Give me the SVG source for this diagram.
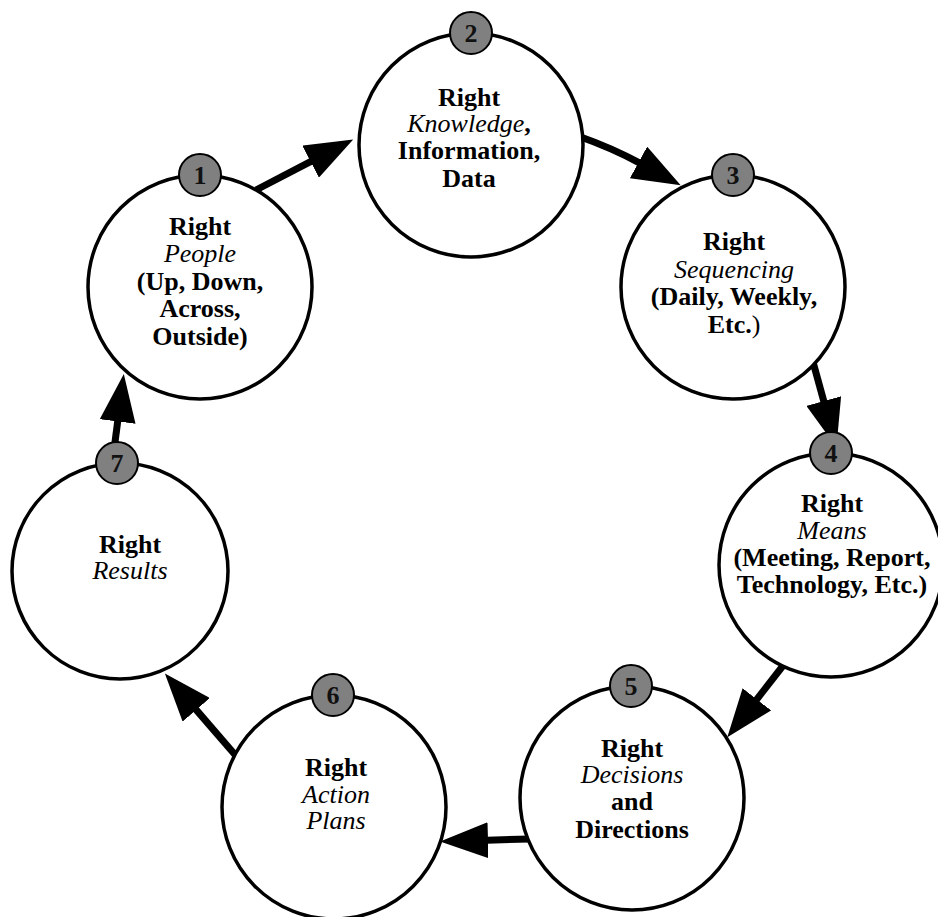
<svg xmlns="http://www.w3.org/2000/svg" width="938" height="917" viewBox="0 0 938 917">
  <style>
    .ring { fill: #ffffff; stroke: #000000; stroke-width: 3.5; }
    .badge { fill: #808080; stroke: #000000; stroke-width: 2; }
    .num { font-family: "Liberation Serif", "Times New Roman", serif; font-size: 26px; font-weight: bold; fill: #111111; text-anchor: middle; }
    .label { font-family: "Liberation Serif", "Times New Roman", serif; font-size: 26px; font-weight: bold; fill: #000000; text-anchor: middle; }
    .em { font-style: italic; font-weight: normal; }
    .plain { font-weight: normal; }
    .link { fill: none; stroke: #000000; stroke-width: 7; }
  </style>
  <defs>
    <marker id="head" markerUnits="userSpaceOnUse" viewBox="0 -18 48 36" markerWidth="48" markerHeight="36" refX="1" refY="0" orient="auto">
      <path d="M0,-18 L48,0 L0,18 Z" fill="#000000"/>
    </marker>
  </defs>
  <rect width="938" height="917" fill="#ffffff"/>

  <!-- connectors: the cycle 1 → 2 → … → 7 → 1 -->
  <g id="connectors">
    <path class="link" d="M256,190 L311.5,161.2" marker-end="url(#head)"/>
    <path class="link" d="M578,136 Q612,148 639.4,162.9" marker-end="url(#head)"/>
    <path class="link" d="M813,362 L824,402" marker-end="url(#head)"/>
    <path class="link" d="M789,658 L756.2,700.1" marker-end="url(#head)"/>
    <path class="link" d="M530,839 L487,840.2" marker-end="url(#head)"/>
    <path class="link" d="M237,757 L195.6,709.1" marker-end="url(#head)"/>
    <path class="link" d="M114,450 L117.8,420.5" marker-end="url(#head)"/>
  </g>

  <g id="node1">
    <circle class="ring" cx="200" cy="287" r="112"/>
    <circle class="badge" cx="200" cy="175" r="21"/>
    <text class="num" x="200" y="184">1</text>
    <text class="label" x="200" y="235">Right</text>
    <text class="label em" x="200" y="262">People</text>
    <text class="label" x="200" y="290">(Up, Down,</text>
    <text class="label" x="200" y="317">Across,</text>
    <text class="label" x="200" y="345">Outside)</text>
  </g>

  <g id="node2">
    <circle class="ring" cx="471" cy="145" r="112"/>
    <circle class="badge" cx="471" cy="33" r="21"/>
    <text class="num" x="471" y="42">2</text>
    <text class="label" x="469" y="106">Right</text>
    <text class="label" x="469" y="132"><tspan class="em">Knowledge</tspan>,</text>
    <text class="label" x="469" y="159">Information,</text>
    <text class="label" x="469" y="187">Data</text>
  </g>

  <g id="node3">
    <circle class="ring" cx="733" cy="287" r="112"/>
    <circle class="badge" cx="733" cy="175" r="21"/>
    <text class="num" x="733" y="184">3</text>
    <text class="label" x="734" y="250">Right</text>
    <text class="label em" x="734" y="278">Sequencing</text>
    <text class="label" x="734" y="305">(Daily, Weekly,</text>
    <text class="label" x="734" y="333">Etc.<tspan class="plain">)</tspan></text>
  </g>

  <g id="node4">
    <circle class="ring" cx="831" cy="565" r="112"/>
    <circle class="badge" cx="831" cy="453" r="21"/>
    <text class="num" x="831" y="462">4</text>
    <text class="label" x="832" y="512">Right</text>
    <text class="label em" x="832" y="539">Means</text>
    <text class="label" x="832" y="566">(Meeting, Report,</text>
    <text class="label" x="832" y="593">Technology, Etc.)</text>
  </g>

  <g id="node5">
    <circle class="ring" cx="632" cy="798" r="112"/>
    <circle class="badge" cx="631" cy="686" r="21"/>
    <text class="num" x="631" y="695">5</text>
    <text class="label" x="632" y="757">Right</text>
    <text class="label em" x="632" y="783">Decisions</text>
    <text class="label" x="632" y="810">and</text>
    <text class="label" x="632" y="838">Directions</text>
  </g>

  <g id="node6">
    <circle class="ring" cx="334" cy="807" r="112"/>
    <circle class="badge" cx="333" cy="695" r="21"/>
    <text class="num" x="333" y="704">6</text>
    <text class="label" x="336" y="776">Right</text>
    <text class="label em" x="336" y="803">Action</text>
    <text class="label em" x="336" y="829">Plans</text>
  </g>

  <g id="node7">
    <circle class="ring" cx="120" cy="571" r="108"/>
    <circle class="badge" cx="117" cy="463" r="21"/>
    <text class="num" x="117" y="472">7</text>
    <text class="label" x="130" y="553">Right</text>
    <text class="label em" x="130" y="579">Results</text>
  </g>
</svg>
